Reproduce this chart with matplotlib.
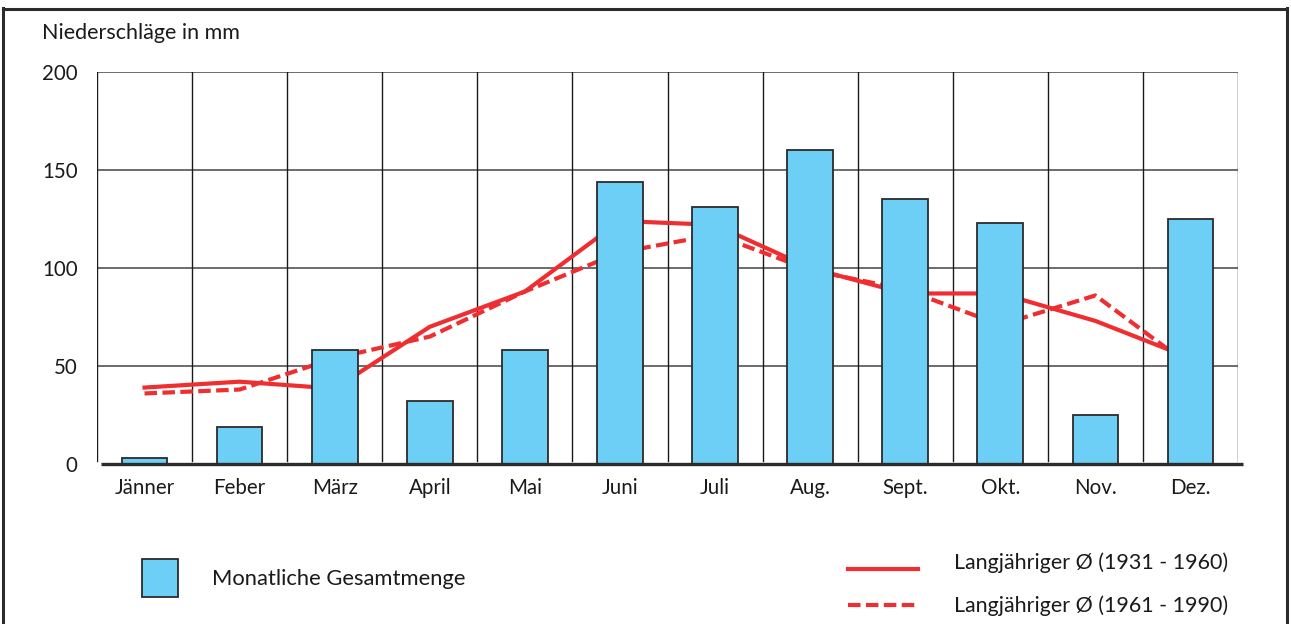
import numpy as np
import matplotlib
matplotlib.use('Agg')
import matplotlib.pyplot as plt
from matplotlib.lines import Line2D
from matplotlib.patches import Rectangle

# Data
#--------------------------------------------------------------------
monate = ['Jänner', 'Feber', 'März', 'April', 'Mai', 'Juni', 'Juli',
          'Aug.', 'Sept.', 'Okt.', 'Nov.', 'Dez.']
gesamtmenge = [3, 19, 58, 32, 58, 144, 131, 160, 135, 123, 25, 125]
mittel_1931_1960 = [39, 42, 38.5, 70, 88, 124, 122, 100, 87, 87, 73, 54]
mittel_1961_1990 = [36, 38, 54, 65, 88, 108, 117, 99, 89, 71, 86, 50]
y_ticks = [0, 50, 100, 150, 200]

label_bar = 'Monatliche Gesamtmenge'
label_alt = 'Langjähriger Ø (1931 - 1960)'
label_neu = 'Langjähriger Ø (1961 - 1990)'

# Style
#--------------------------------------------------------------------
plt.rcParams['font.family'] = ['Lato', 'DejaVu Sans']
blau = '#6DCFF6'
rot = '#EE2E31'
dunkel = '#2B2B2B'
text_col = '#1a1a1a'
strich = (0, (3.0, 1.3))

W, H = 1291, 624
fig = plt.figure(figsize=(W / 100, H / 100), dpi=100)
ax = fig.add_axes([97 / W, 1 - 464 / H, (1238 - 97) / W, (464 - 72) / H])

x = np.arange(len(monate)) + 0.5

# Grid
#--------------------------------------------------------------------
for yv in y_ticks[1:]:
    ax.plot([0, 12], [yv, yv], color='#444444', lw=1.1, zorder=1)
for xv in range(13):
    ax.plot([xv, xv], [1.5, 200], color='#1a1a1a', lw=1.0, zorder=1)

# Lines and bars
#--------------------------------------------------------------------
ax.plot(x, mittel_1931_1960, color=rot, lw=3.0, zorder=2)
ax.plot(x, mittel_1961_1990, color=rot, lw=3.0, zorder=2, linestyle=strich)
ax.bar(x, gesamtmenge, width=0.48, color=blau, edgecolor=dunkel, lw=1.3, zorder=3)

# baseline
ax.plot([0.04, 12.05], [0, 0], color=dunkel, lw=2.4, zorder=4, clip_on=False,
        solid_capstyle='butt')

ax.set_xlim(0, 12)
ax.set_ylim(0, 200)
for s in ax.spines.values():
    s.set_visible(False)
ax.set_xticks(x)
ax.set_xticklabels(monate, fontsize=14.8, color=text_col)
ax.set_yticks(y_ticks)
ax.set_yticklabels([str(v) for v in y_ticks], fontsize=14.8, color=text_col)
ax.tick_params(axis='x', length=0, pad=10)
ax.tick_params(axis='y', length=0, pad=14)

fig.text(42 / W, 1 - 33 / H, 'Niederschläge in mm', fontsize=15.5,
         ha='left', va='center', color=text_col)

# Legend (drawn by hand)
#--------------------------------------------------------------------
fig.add_artist(Rectangle((142 / W, 1 - 597 / H), 36 / W, 38 / H,
                         transform=fig.transFigure, facecolor=blau,
                         edgecolor=dunkel, lw=1.3))
fig.text(212 / W, 1 - 579 / H, label_bar, fontsize=15.8, ha='left', va='center',
         color=text_col)

fig.add_artist(Line2D([848 / W, 918 / W], [1 - 569 / H, 1 - 569 / H],
                      transform=fig.transFigure, color=rot, lw=3.0))
fig.add_artist(Line2D([848 / W, 918 / W], [1 - 605 / H, 1 - 605 / H],
                      transform=fig.transFigure, color=rot, lw=3.0,
                      linestyle=strich))
fig.text(954 / W, 1 - 563 / H, label_alt, fontsize=15.4, ha='left', va='center',
         color=text_col)
fig.text(954 / W, 1 - 606 / H, label_neu, fontsize=15.4, ha='left', va='center',
         color=text_col)

# Frame
#--------------------------------------------------------------------
rahmen = dict(transform=fig.transFigure, color=dunkel, lw=2.2)
fig.add_artist(Line2D([3 / W, 3 / W], [0, 1 - 8 / H], **rahmen))
fig.add_artist(Line2D([3 / W, 1287 / W], [1 - 9 / H, 1 - 9 / H], **rahmen))
fig.add_artist(Line2D([1287 / W, 1287 / W], [0, 1 - 8 / H], **rahmen))

fig.savefig('out.png', dpi=100)
